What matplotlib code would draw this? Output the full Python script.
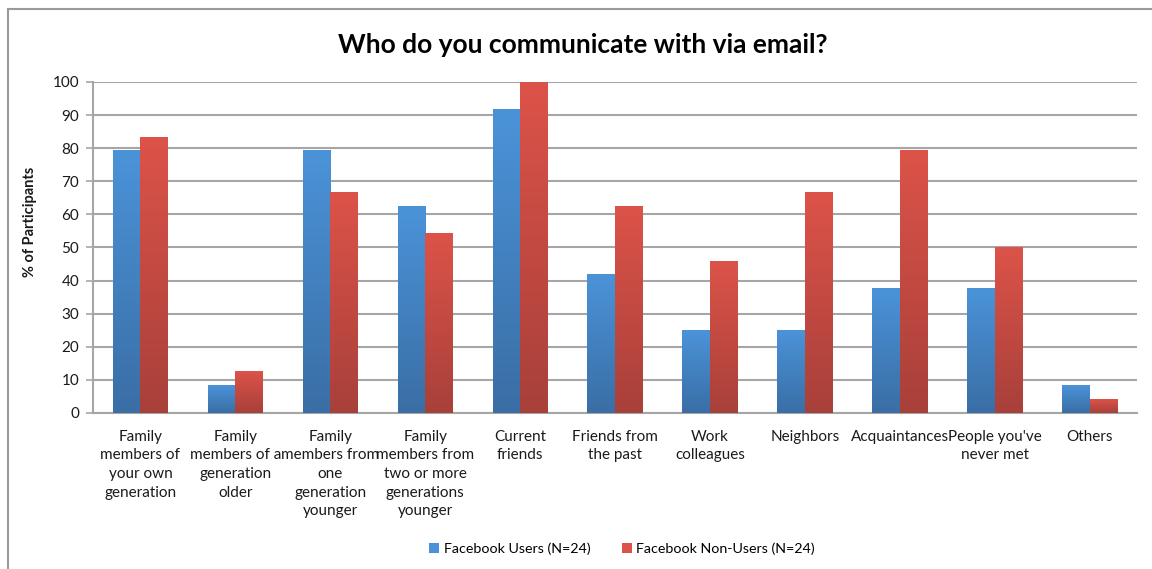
import matplotlib.pyplot as plt
import numpy as np
from matplotlib.colors import LinearSegmentedColormap
from matplotlib.patches import Patch

plt.rcParams['font.family'] = ['Lato', 'DejaVu Sans']

categories = [
    "Family\nmembers of\nyour own\ngeneration",
    "Family\nmembers of a\ngeneration\nolder",
    "Family\nmembers from\none\ngeneration\nyounger",
    "Family\nmembers from\ntwo or more\ngenerations\nyounger",
    "Current\nfriends",
    "Friends from\nthe past",
    "Work\ncolleagues",
    "Neighbors",
    "Acquaintances",
    "People you've\nnever met",
    "Others",
]
fb_users = [79.2, 8.3, 79.2, 62.5, 91.7, 41.7, 25.0, 25.0, 37.5, 37.5, 8.3]
fb_non_users = [83.3, 12.5, 66.7, 54.2, 100.0, 62.5, 45.8, 66.7, 79.2, 50.0, 4.2]
series_names = ["Facebook Users (N=24)", "Facebook Non-Users (N=24)"]
yticks = list(range(0, 101, 10))

BLUE_TOP, BLUE_BOT = "#4B93D9", "#3A6EA5"
RED_TOP, RED_BOT = "#DC5349", "#A8403A"
GRID = "#A6A6A6"
TEXT = "#1a1a1a"

fig = plt.figure(figsize=(11.52, 5.69), dpi=100)
ax = fig.add_axes([0.0807, 0.2742, 0.9063, 0.5817])

x = np.arange(len(categories))
width = 0.29
grad = np.linspace(1, 0, 256).reshape(-1, 1)


def gradient_bars(xs, vals, top, bot):
    cmap = LinearSegmentedColormap.from_list("g", [bot, top])
    bars = ax.bar(xs, vals, width, color="none", edgecolor="none", zorder=3)
    for b in bars:
        x0, y0 = b.get_x(), b.get_y()
        w, h = b.get_width(), b.get_height()
        ax.imshow(grad, cmap=cmap, aspect="auto", origin="upper",
                  extent=(x0, x0 + w, y0, y0 + h), zorder=3,
                  interpolation="bilinear")
    return bars


gradient_bars(x - width / 2, fb_users, BLUE_TOP, BLUE_BOT)
gradient_bars(x + width / 2, fb_non_users, RED_TOP, RED_BOT)

ax.set_xlim(-0.5, len(categories) - 0.5)
ax.set_ylim(0, 100)
ax.set_yticks(yticks)
ax.set_yticklabels([str(t) for t in yticks], fontsize=11, color=TEXT)
ax.set_xticks(x)
ax.set_xticklabels(categories, fontsize=11, color=TEXT, linespacing=1.42,
                   va="top")
ax.tick_params(axis="x", length=0, pad=12)
ax.tick_params(axis="y", length=5, width=1.2, color=GRID, pad=5,
               direction="out")

ax.grid(True, axis="y", color=GRID, linewidth=1.5, zorder=1)
ax.set_axisbelow(True)
for side in ("top", "right"):
    ax.spines[side].set_visible(False)
for side in ("left", "bottom"):
    ax.spines[side].set_color(GRID)
    ax.spines[side].set_linewidth(1.5)

ax.set_ylabel("% of Participants", fontsize=10.5, fontweight="bold",
              color=TEXT)
ax.yaxis.set_label_coords(-0.0536, 0.577)

fig.text(0.506, 0.921, "Who do you communicate with via email?",
         ha="center", va="center", fontsize=19, fontweight="bold",
         color="black")

handles = [Patch(facecolor=BLUE_TOP, edgecolor="none"),
           Patch(facecolor=RED_TOP, edgecolor="none")]
fig.legend(handles, series_names, loc="center", bbox_to_anchor=(0.540, 0.035),
           ncol=2, frameon=False, fontsize=10.3, handlelength=0.7,
           handleheight=0.7, handletextpad=0.3, columnspacing=2.2)

# outer chart frame (top and left edges)
fig.add_artist(plt.Line2D([0.007, 0.007], [0.0, 0.984], color="#9a9a9a",
                          linewidth=1.5, transform=fig.transFigure))
fig.add_artist(plt.Line2D([0.007, 1.0], [0.984, 0.984], color="#9a9a9a",
                          linewidth=1.5, transform=fig.transFigure))

fig.savefig("out.png", dpi=100, facecolor="white")
